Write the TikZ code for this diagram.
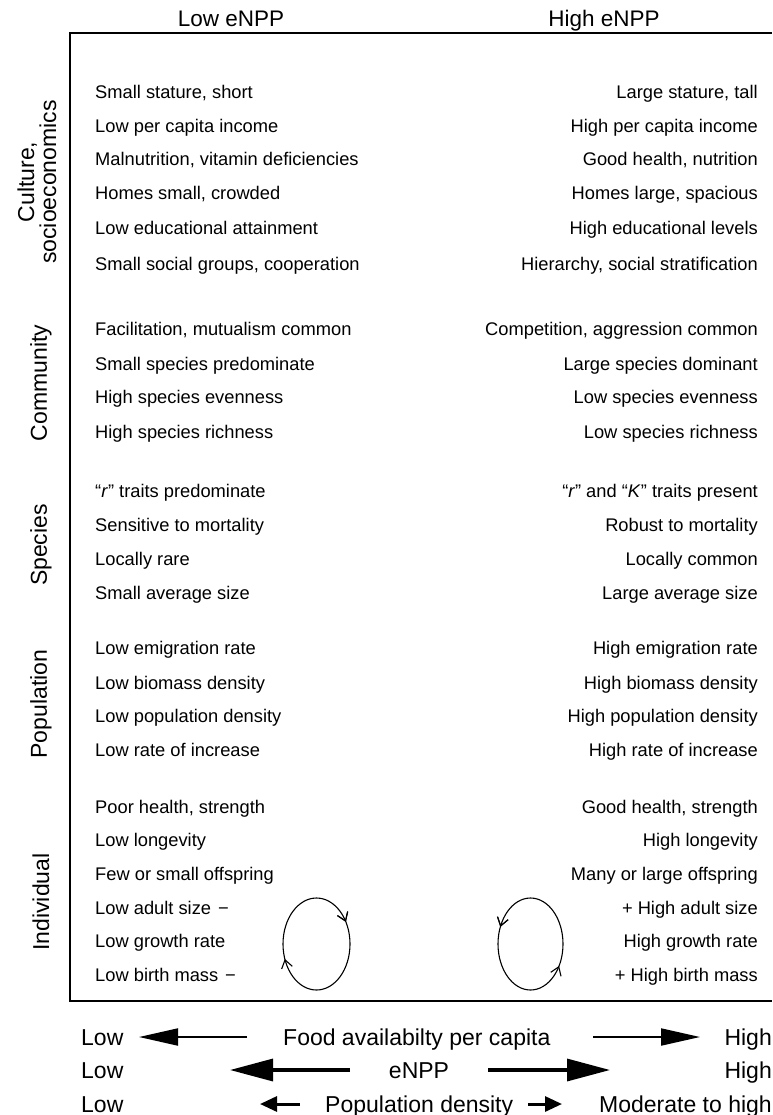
\documentclass[tikz,border=0pt]{standalone}
\usepackage{fontspec}
\setmainfont{Liberation Sans}
\usetikzlibrary{arrows.meta,decorations.markings}
\newcommand\tworow[4]{%
  \node[lefttxt] (l#1) at (95,#2+6.5) {#3};
  \node[righttxt] (r#1) at (758,#2+6.5) {#4};}
\begin{document}
\begin{tikzpicture}[x=1pt,y=-1pt,
  lefttxt/.style={anchor=base west,inner sep=0pt,font=\fontsize{18.3}{20}\selectfont},
  righttxt/.style={anchor=base east,inner sep=0pt,font=\fontsize{18.3}{20}\selectfont},
  headtxt/.style={anchor=base,inner sep=0pt,font=\fontsize{22.5}{24}\selectfont},
  grouplab/.style={rotate=90,inner sep=0pt,align=center,font=\fontsize{23}{22}\selectfont},
  bottxt/.style={inner sep=0pt,font=\fontsize{23}{24}\selectfont},
  frame/.style={line width=1.2pt},
  loop/.style={line width=1.1pt,postaction=decorate},
  bigA/.style={line width=2pt,-{Triangle[length=39pt,width=17pt]}},
  bigB/.style={line width=3.3pt,-{Triangle[length=43pt,width=22pt]}},
  bigC/.style={line width=3pt,-{Triangle[length=17pt,width=15pt]}},
  barb/.style={decoration={markings,
     mark=at position #1 with {\arrow{Straight Barb[length=8pt,width=11pt,line width=1.1pt]}}}}
]
\useasboundingbox (0,0) rectangle (772,1115);
% headers
\node[headtxt] (hlow) at (231,27) {Low eNPP};
\node[headtxt] (hhigh) at (604,27) {High eNPP};
% frame
\coordinate (ftl) at (70,33);
\coordinate (ftr) at (772,33);
\coordinate (fbl) at (70,1001);
\coordinate (fbr) at (772,1001);
\draw[frame] (ftr) -- (ftl) -- (fbl) -- (fbr);
% group labels
\node[grouplab] (gcult) at (37,182) {Culture,\\socioeconomics};
\node[grouplab] (gcomm) at (41,383) {Community};
\node[grouplab] (gspec) at (41,545) {Species};
\node[grouplab] (gpop) at (41,704) {Population};
\node[grouplab] (gind) at (41,902) {Individual};
% rows
\tworow{1}{92}{Small stature, short}{Large stature, tall}
\tworow{2}{125.7}{Low per capita income}{High per capita income}
\tworow{3}{159.4}{Malnutrition, vitamin deficiencies}{Good health, nutrition}
\tworow{4}{193.1}{Homes small, crowded}{Homes large, spacious}
\tworow{5}{227.8}{Low educational attainment}{High educational levels}
\tworow{6}{263.5}{Small social groups, cooperation}{Hierarchy, social stratification}
\tworow{7}{328.9}{Facilitation, mutualism common}{Competition, aggression common}
\tworow{8}{363.6}{Small species predominate}{Large species dominant}
\tworow{9}{397.3}{High species evenness}{Low species evenness}
\tworow{10}{432}{High species richness}{Low species richness}
\tworow{11}{490.5}{“\textit{r}” traits predominate}{“\textit{r}” and “\textit{K}” traits present}
\tworow{12}{525.2}{Sensitive to mortality}{Robust to mortality}
\tworow{13}{558.9}{Locally rare}{Locally common}
\tworow{14}{592.6}{Small average size}{Large average size}
\tworow{15}{648}{Low emigration rate}{High emigration rate}
\tworow{16}{682.7}{Low biomass density}{High biomass density}
\tworow{17}{716.4}{Low population density}{High population density}
\tworow{18}{750.1}{Low rate of increase}{High rate of increase}
\tworow{19}{806.6}{Poor health, strength}{Good health, strength}
\tworow{20}{840.3}{Low longevity}{High longevity}
\tworow{21}{874}{Few or small offspring}{Many or large offspring}
\tworow{22}{907.7}{Low adult size\hspace{7pt}−}{+ High adult size}
\tworow{23}{941.4}{Low growth rate}{High growth rate}
\tworow{24}{975}{Low birth mass\hspace{7pt}−}{+ High birth mass}
% feedback loops (clockwise on the left, anticlockwise on the right)
\coordinate (lc) at (316.5,944);
\coordinate (rc) at (530.5,944);
\draw[loop,barb=0.16,postaction={decorate,barb=0.69}] ([yshift=46pt]lc) arc[start angle=90,end angle=-270,x radius=33.5pt,y radius=46pt];
\draw[loop,barb=0.18,postaction={decorate,barb=0.66}] ([yshift=46pt]rc) arc[start angle=90,end angle=450,x radius=32.5pt,y radius=46pt];
% bottom scale
\node[bottxt,anchor=base west] (low1) at (81,1045.2) {Low};
\node[bottxt,anchor=base west] (food) at (283,1045.2) {Food availabilty per capita};
\node[bottxt,anchor=base east] (high1) at (772,1045.2) {High};
\node[bottxt,anchor=base west] (low2) at (81,1078.2) {Low};
\node[bottxt,anchor=base] (enpp) at (419,1078.2) {eNPP};
\node[bottxt,anchor=base east] (high2) at (772,1078.2) {High};
\node[bottxt,anchor=base west] (low3) at (81,1112.2) {Low};
\node[bottxt,anchor=base west] (popd) at (325,1112.2) {Population density};
\node[bottxt,anchor=base east] (modh) at (772,1112.2) {Moderate to high};
\coordinate (a1l) at (247,1037); \coordinate (a1lt) at (139,1037);
\coordinate (a1r) at (593,1037); \coordinate (a1rt) at (700,1037);
\coordinate (a2l) at (350,1070); \coordinate (a2lt) at (230,1070);
\coordinate (a2r) at (488,1070); \coordinate (a2rt) at (610,1070);
\coordinate (a3l) at (300,1104); \coordinate (a3lt) at (260,1104);
\coordinate (a3r) at (528,1104); \coordinate (a3rt) at (562,1104);
\draw[bigA] (a1l) -- (a1lt);
\draw[bigA] (a1r) -- (a1rt);
\draw[bigB] (a2l) -- (a2lt);
\draw[bigB] (a2r) -- (a2rt);
\draw[bigC] (a3l) -- (a3lt);
\draw[bigC] (a3r) -- (a3rt);
\end{tikzpicture}
\end{document}
